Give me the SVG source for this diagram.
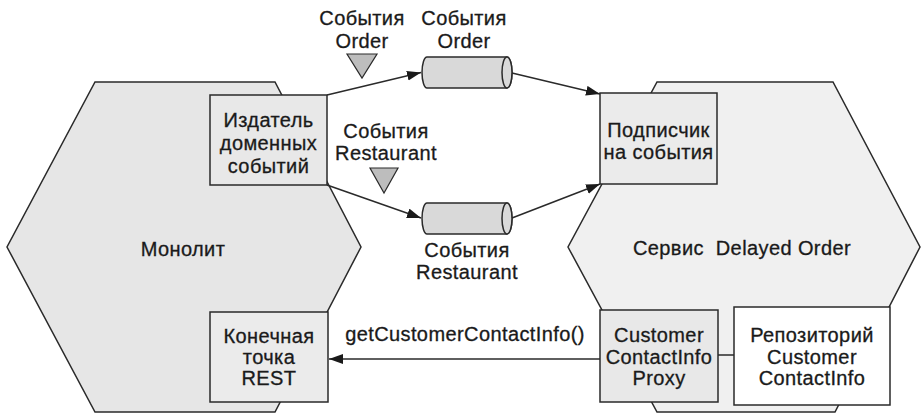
<svg xmlns="http://www.w3.org/2000/svg" width="921" height="414" viewBox="0 0 921 414">
<defs>
<style>
.hex{stroke:#2a2a2a;stroke-width:1.5}
.box{stroke:#2a2a2a;stroke-width:1.5}
.t{font-family:"Liberation Sans",Arial,sans-serif;font-size:20px;letter-spacing:0.4px;fill:#1a1a1a;stroke:#1a1a1a;stroke-width:0.3px;text-anchor:middle}
.c{stroke:#2a2a2a;stroke-width:1.5;fill:none}
.cyl{fill:#d9d9d9;stroke:#2a2a2a;stroke-width:1.5}
.tri{fill:#bdbdbd;stroke:#2a2a2a;stroke-width:1.2}
</style>
<marker id="arrow" markerUnits="userSpaceOnUse" markerWidth="15" markerHeight="11" refX="14" refY="5" orient="auto">
<path d="M0,0 L14,5 L0,10 Z" fill="#1a1a1a"/>
</marker>
</defs>
<rect width="921" height="414" fill="#ffffff"/>

<g id="monolith">
<polygon class="hex" points="95,82 275,82 361,247 275,412 95,412 7,247" fill="#e6e6e6"/>
<text class="t" x="183" y="256">Монолит</text>
</g>

<g id="delayed-order-service">
<polygon class="hex" points="657,82 833,82 920,247 835,412 657,412 568,247" fill="#f0f0f0"/>
<text class="t" x="742" y="255" xml:space="preserve">Сервис  Delayed Order</text>
</g>

<g id="publisher">
<rect class="box" x="210" y="95" width="117" height="90" fill="#e8e8e8"/>
<text class="t" x="268.5" y="127">Издатель</text>
<text class="t" x="268.5" y="150">доменных</text>
<text class="t" x="268.5" y="173">событий</text>
</g>

<g id="subscriber">
<rect class="box" x="600" y="93" width="117" height="91" fill="#ebebeb"/>
<text class="t" x="658.5" y="137">Подписчик</text>
<text class="t" x="658.5" y="159">на события</text>
</g>

<g id="rest-endpoint">
<rect class="box" x="210" y="312" width="118" height="90" fill="#ebebeb"/>
<text class="t" x="269" y="343">Конечная</text>
<text class="t" x="269" y="364">точка</text>
<text class="t" x="269" y="385">REST</text>
</g>

<g id="proxy">
<rect class="box" x="600" y="310" width="118" height="92" fill="#e8e8e8"/>
<text class="t" x="659" y="342">Customer</text>
<text class="t" x="659" y="364">ContactInfo</text>
<text class="t" x="659" y="385">Proxy</text>
</g>

<g id="repository">
<rect class="box" x="734" y="307" width="156" height="98" fill="#ffffff"/>
<text class="t" x="812" y="342">Репозиторий</text>
<text class="t" x="812" y="364">Customer</text>
<text class="t" x="812" y="385">ContactInfo</text>
</g>

<g id="order-channel">
<path class="cyl" d="M427,57 L507,57 A5,15.5 0 0 1 507,88 L427,88 A5,15.5 0 0 1 427,57 Z"/>
<ellipse cx="507" cy="72.5" rx="5" ry="15.5" fill="#d9d9d9" stroke="#2a2a2a" stroke-width="1.5"/>
<text class="t" x="464" y="25">События</text>
<text class="t" x="464" y="48">Order</text>
</g>

<g id="restaurant-channel">
<path class="cyl" d="M427,203 L507,203 A5,15.5 0 0 1 507,234 L427,234 A5,15.5 0 0 1 427,203 Z"/>
<ellipse cx="507" cy="218.5" rx="5" ry="15.5" fill="#d9d9d9" stroke="#2a2a2a" stroke-width="1.5"/>
<text class="t" x="467" y="257">События</text>
<text class="t" x="467" y="279">Restaurant</text>
</g>

<g id="order-event">
<polygon class="tri" points="347,54 377,54 362,78"/>
<text class="t" x="362" y="25">События</text>
<text class="t" x="362" y="48">Order</text>
</g>

<g id="restaurant-event">
<polygon class="tri" points="370,168 398,168 384,193"/>
<text class="t" x="386" y="138">События</text>
<text class="t" x="386" y="160">Restaurant</text>
</g>

<g id="connectors">
<line class="c" x1="327" y1="95" x2="421" y2="72.5" marker-end="url(#arrow)"/>
<line class="c" x1="512" y1="73" x2="600" y2="94" marker-end="url(#arrow)"/>
<line class="c" x1="327" y1="185" x2="421" y2="218" marker-end="url(#arrow)"/>
<line class="c" x1="512" y1="218" x2="600" y2="184" marker-end="url(#arrow)"/>
<line class="c" x1="600" y1="359" x2="329" y2="359" marker-end="url(#arrow)"/>
<line class="c" x1="718" y1="355" x2="734" y2="355"/>
<text class="t" x="465" y="341">getCustomerContactInfo()</text>
</g>
</svg>
